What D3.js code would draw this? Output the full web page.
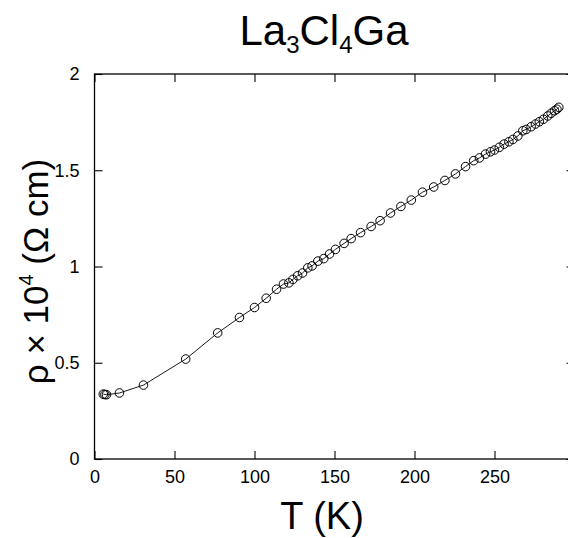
<!DOCTYPE html>
<html><head><meta charset="utf-8">
<script src="https://cdn.jsdelivr.net/npm/d3@7"></script>
<style>body{margin:0;background:#fff}svg{display:block}text{font-family:"Liberation Sans",Arial,sans-serif}</style>
</head><body><svg id="c" width="568" height="538"></svg>
<script>
const temperature = [5.5,6.5,7.5,15.6,30.6,57,77,90.6,100,107.3,113.8,118.1,121.5,124,127,130,133.3,136,139.6,143.3,146.9,150.6,156,160.4,166.3,172.9,178.5,185,191.5,198,205,212,219,225.6,231.9,237,240.6,244.4,247.5,250,253,256,259,261.5,264.6,267.7,269.8,272.9,275.6,278,280.6,283.3,285.4,287.5,289,290.2];
const resistivity = [0.337,0.335,0.334,0.343,0.384,0.519,0.655,0.735,0.787,0.835,0.882,0.909,0.915,0.933,0.952,0.966,0.993,1.003,1.028,1.041,1.065,1.089,1.12,1.145,1.176,1.208,1.238,1.278,1.312,1.345,1.386,1.413,1.447,1.481,1.519,1.55,1.564,1.584,1.596,1.605,1.619,1.636,1.648,1.66,1.678,1.705,1.712,1.726,1.74,1.752,1.765,1.782,1.796,1.809,1.817,1.827];
const xTicks = [0,50,100,150,200,250];
const yTicks = [0,0.5,1,1.5,2];
const yTickLabels = ["0","0.5","1","1.5","2"];

const data = temperature.map((t,i)=>({t, r: resistivity[i]}));
const svg = d3.select("#c");
const L=94.5, R=574.5, T=74, B=459;
const x = d3.scaleLinear().domain([0,300]).range([L,R]);
const y = d3.scaleLinear().domain([0,2]).range([B,T]);

const frame = svg.append("g").attr("fill","none").attr("stroke","#000").attr("stroke-width",1.3);
frame.append("rect").attr("x",L).attr("y",T).attr("width",R-L).attr("height",B-T);

const gx = svg.append("g").attr("transform",`translate(0,${B})`)
  .call(d3.axisBottom(x).tickValues(xTicks).tickSize(-8).tickPadding(11).tickFormat(d3.format("d")));
const gxt = svg.append("g").attr("transform",`translate(0,${T})`)
  .call(d3.axisTop(x).tickValues(xTicks).tickSize(-8).tickFormat(""));
const gy = svg.append("g").attr("transform",`translate(${L},0)`)
  .call(d3.axisLeft(y).tickValues(yTicks).tickSize(-8).tickPadding(15).tickFormat((d,i)=>yTickLabels[i]));
const gyr = svg.append("g").attr("transform",`translate(${R},0)`)
  .call(d3.axisRight(y).tickValues(yTicks).tickSize(-8).tickFormat(""));
[gx,gxt,gy,gyr].forEach(g=>{
  g.select(".domain").remove();
  g.selectAll(".tick line").attr("stroke","#000").attr("stroke-width",1.1);
  g.selectAll("text").attr("font-size",18).attr("fill","#000").attr("font-family","Liberation Sans, Arial, sans-serif");
});

svg.append("path").datum(data)
  .attr("fill","none").attr("stroke","#000").attr("stroke-width",0.9)
  .attr("d", d3.line().x(d=>x(d.t)).y(d=>y(d.r)));
svg.append("g").selectAll("circle").data(data).join("circle")
  .attr("cx",d=>x(d.t)).attr("cy",d=>y(d.r)).attr("r",4.3)
  .attr("fill","none").attr("stroke","#000").attr("stroke-width",1);

const title = svg.append("text").attr("x",324).attr("y",45).attr("text-anchor","middle").attr("font-size",42);
title.append("tspan").text("La");
title.append("tspan").text("3").attr("font-size",24).attr("dy",8);
title.append("tspan").text("Cl").attr("dy",-8);
title.append("tspan").text("4").attr("font-size",24).attr("dy",8);
title.append("tspan").text("Ga").attr("dy",-8);

svg.append("text").attr("x",322).attr("y",529).attr("text-anchor","middle").attr("font-size",38).text("T (K)");

const yl = svg.append("text").attr("transform",`translate(48,${(T+B)/2+5}) rotate(-90)`).attr("text-anchor","middle").attr("font-size",35);
yl.append("tspan").text("ρ × 10");
yl.append("tspan").text("4").attr("font-size",20).attr("dy",-15);
yl.append("tspan").text(" (Ω cm)").attr("dy",15);
</script></body></html>
